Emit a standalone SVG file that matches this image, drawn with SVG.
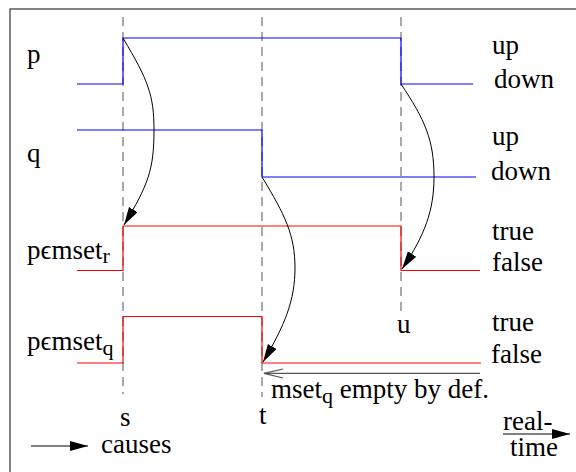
<svg xmlns="http://www.w3.org/2000/svg" width="576" height="472" viewBox="0 0 576 472">
<style>
text{font-family:'Liberation Serif','Times New Roman',Times,'DejaVu Serif',serif;font-size:27px;fill:#000}
.sub{font-size:22px}
.dash{stroke:#555;stroke-width:1;stroke-dasharray:9 6;fill:none}
.blue{stroke:#0000ff;stroke-width:1.2;fill:none}
.red{stroke:#ff0000;stroke-width:1.2;fill:none}
.cause{stroke:#000;stroke-width:1;fill:none;marker-end:url(#ah)}
</style>
<defs>
<marker id="ah" markerUnits="userSpaceOnUse" markerWidth="19" markerHeight="11" refX="18" refY="5" orient="auto" viewBox="0 0 19 11">
<path d="M0,0 L18,5 L0,10 z" fill="#000"/>
</marker>
</defs>
<rect x="10" y="9" width="620" height="520" fill="none" stroke="#333" stroke-width="1.2"/>
<g id="timelines">
<line class="dash" x1="123" y1="17" x2="123" y2="394"/>
<line class="dash" x1="262" y1="17" x2="262" y2="397"/>
<line class="dash" x1="401" y1="17" x2="401" y2="316"/>
</g>
<g font-family="Liberation Serif, serif">
<g id="signal-p">
<path class="blue" d="M77,84 H123 V38 H401 V84 H473"/>
<text x="27" y="63">p</text>
<text x="492" y="54">up</text>
<text x="494" y="88">down</text>
</g>
<g id="signal-q">
<path class="blue" d="M77,130 H262 V177 H476"/>
<text x="27" y="162">q</text>
<text x="492" y="145">up</text>
<text x="491" y="180">down</text>
</g>
<g id="signal-mset-r">
<path class="red" d="M77,270.5 H123 V226 H401 V270.5 H480"/>
<text x="27" y="259">pϵmset<tspan class="sub" dy="4">r</tspan></text>
<text x="492" y="240">true</text>
<text x="492" y="271">false</text>
</g>
<g id="signal-mset-q">
<path class="red" d="M77,363 H123 V316.5 H262 V363 H481"/>
<text x="27" y="350">pϵmset<tspan class="sub" dy="5">q</tspan></text>
<text x="492" y="331">true</text>
<text x="491" y="363">false</text>
</g>
<g id="labels">
<text x="120" y="426">s</text>
<text x="259" y="424">t</text>
<text x="397" y="333">u</text>
<text x="271" y="398">mset<tspan class="sub" dy="5">q</tspan><tspan dy="-5"> empty by def.</tspan></text>
<text x="101" y="453">causes</text>
<text x="503" y="430">real-</text>
<text x="510" y="456">time</text>
</g>
</g>
<g id="connectors">
<path class="cause" d="M123,38 C148,80 154,95 154,130 C154,170 148,185 124,225"/>
<path class="cause" d="M262,177 C285,215 295,235 295,268 C295,300 285,325 263,362"/>
<path class="cause" d="M401,84 C425,120 434,140 434,177 C434,210 425,235 402,269"/>
<path d="M480,373.3 H264" stroke="#555" stroke-width="1.3" fill="none"/>
<path d="M283,369 L264,373.3 L283,378" stroke="#555" stroke-width="1.2" fill="none"/>
<line x1="31" y1="446" x2="88" y2="446" stroke="#000" stroke-width="1" marker-end="url(#ah)"/>
<line x1="503" y1="434" x2="570" y2="434" stroke="#000" stroke-width="1" marker-end="url(#ah)"/>
</g>
</svg>
